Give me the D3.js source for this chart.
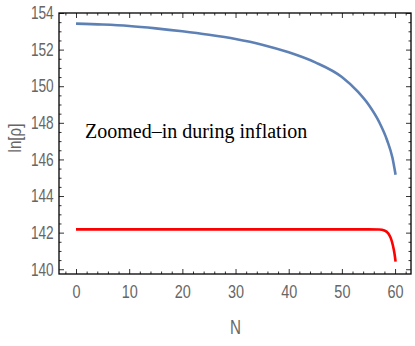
<!DOCTYPE html>
<html>
<head>
<meta charset="utf-8">
<script src="https://cdn.jsdelivr.net/npm/d3@7"></script>
<style>
  body { margin: 0; background: #fff; }
  .tick text { font-family: "Liberation Sans", sans-serif; fill: #666; }
</style>
</head>
<body>
<script>
// values
var blueN   = [0, 5, 10, 15, 20, 25, 30, 35, 40, 45, 50, 53, 55, 57, 58.5, 59.5, 60.1];
var blueVal = [153.42, 153.37, 153.29, 153.16, 153.0, 152.81, 152.58, 152.27, 151.85, 151.3, 150.5, 149.7, 149.0, 148.05, 147.05, 146.1, 145.16];

var redN   = [0, 20, 40, 55, 57, 58, 58.7, 59.2, 59.6, 59.9, 60.1];
var redVal = [142.18, 142.18, 142.18, 142.18, 142.17, 142.12, 141.97, 141.7, 141.3, 140.85, 140.42];

var xTicks = [0, 10, 20, 30, 40, 50, 60];
var yTicks = [140, 142, 144, 146, 148, 150, 152, 154];

var W = 415, H = 346;
var mLeft = 59, mRight = 411, mTop = 13, mBottom = 274;

var svg = d3.select("body").append("svg")
  .attr("width", W)
  .attr("height", H);

var x = d3.scaleLinear().domain([-3.2, 63]).range([mLeft, mRight]);
var y = d3.scaleLinear().domain([139.74, 154]).range([mBottom, mTop]);

// minor ticks
var xMinor = d3.range(-2, 63, 2).filter(function (d) { return d % 10 != 0; });
var yMinor = d3.range(140, 154.01, 0.5).filter(function (d) { return Math.abs(d % 2) > 0.01; });

function frameSide(axis, pos, major, minor, labels) {
  var g = svg.append("g").attr("transform", pos);
  g.call(axis.tickValues(minor).tickSize(-2.5).tickFormat(""));
  g.select(".domain").remove();
  var g2 = svg.append("g").attr("transform", pos);
  g2.call(axis.tickValues(major).tickSize(-5).tickFormat(labels ? d3.format("d") : ""));
  g2.select(".domain").remove();
  return g2;
}

var bx = frameSide(d3.axisBottom(x), "translate(0," + mBottom + ")", xTicks, xMinor, true);
bx.selectAll("text").attr("font-size", 19).attr("y", 11).attr("transform", "scale(0.76,1)");
frameSide(d3.axisTop(x), "translate(0," + mTop + ")", xTicks, xMinor, false);
var ly = frameSide(d3.axisLeft(y), "translate(" + mLeft + ",0)", yTicks, yMinor, true);
ly.selectAll("text").attr("font-size", 18).attr("x", -7).attr("transform", "scale(0.76,1)");
frameSide(d3.axisRight(y), "translate(" + mRight + ",0)", yTicks, yMinor, false);

svg.selectAll(".tick line").attr("stroke", "#333");

// frame
svg.append("rect")
  .attr("x", mLeft).attr("y", mTop)
  .attr("width", mRight - mLeft).attr("height", mBottom - mTop)
  .attr("fill", "none").attr("stroke", "#000").attr("stroke-width", 1.3);

var line = d3.line()
  .x(function (d) { return x(d[0]); })
  .y(function (d) { return y(d[1]); })
  .curve(d3.curveMonotoneX);

svg.append("path")
  .datum(d3.zip(blueN, blueVal))
  .attr("d", line)
  .attr("fill", "none").attr("stroke", "#5E81B5").attr("stroke-width", 2.6);

svg.append("path")
  .datum(d3.zip(redN, redVal))
  .attr("d", line)
  .attr("fill", "none").attr("stroke", "#FF0000").attr("stroke-width", 2.6);

// labels
svg.append("text")
  .attr("x", 85).attr("y", 138)
  .attr("font-family", "Liberation Serif, serif")
  .attr("font-size", 20)
  .text("Zoomed\u2013in during inflation");

svg.append("text")
  .attr("transform", "translate(" + x(30) + ",334) scale(0.76,1)")
  .attr("text-anchor", "middle")
  .attr("font-family", "Liberation Sans, sans-serif")
  .attr("font-size", 20).attr("fill", "#666")
  .text("N");

svg.append("text")
  .attr("transform", "translate(21,138) rotate(-90) scale(0.8,1)")
  .attr("text-anchor", "middle")
  .attr("font-family", "Liberation Sans, sans-serif")
  .attr("font-size", 19).attr("fill", "#666")
  .text("ln[\u03C1]");
</script>
</body>
</html>
